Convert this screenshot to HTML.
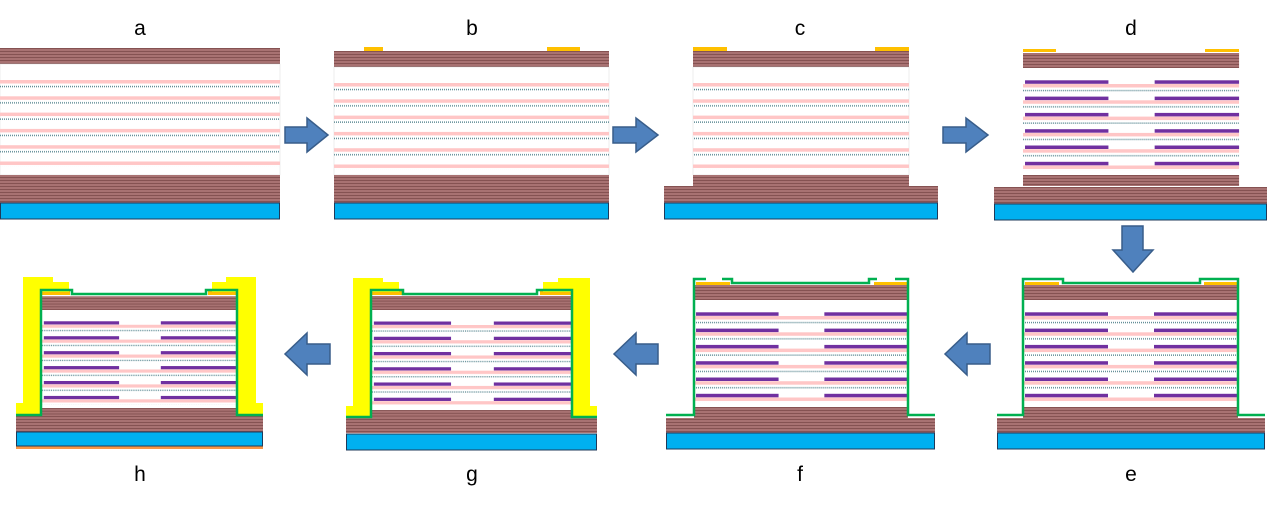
<!DOCTYPE html>
<html><head><meta charset="utf-8"><style>
html,body{margin:0;padding:0;background:#fff;}
svg{display:block;}
text{font-family:"Liberation Sans",sans-serif;font-size:21px;fill:#000;}
</style></head><body>
<svg width="1268" height="505" viewBox="0 0 1268 505" xmlns="http://www.w3.org/2000/svg">
<defs>
<pattern id="dbr" width="10" height="3" patternUnits="userSpaceOnUse"><rect width="10" height="3" fill="#a87272"/><rect y="2" width="10" height="1" fill="#855252"/></pattern>
<pattern id="act" x="0" y="16" width="10" height="16.3" patternUnits="userSpaceOnUse"><rect width="10" height="3.5" fill="#ffc6c6"/><line x1="0" x2="10" y1="6.5" y2="6.5" stroke="#5f8c95" stroke-width="1.5" stroke-dasharray="1 1"/></pattern>
<g id="core">
<rect x="0" y="-15" width="215" height="15" fill="url(#dbr)"/>
<rect x="0" y="0" width="215" height="107" fill="#fff"/>
<rect x="0" y="16" width="215" height="87" fill="url(#act)"/>
<g fill="#7030a0">
<rect x="2" y="12.3" width="83" height="3.5"/><rect x="131" y="12.3" width="84" height="3.5"/>
<rect x="2" y="28.6" width="83" height="3.5"/><rect x="131" y="28.6" width="84" height="3.5"/>
<rect x="2" y="44.9" width="83" height="3.5"/><rect x="131" y="44.9" width="84" height="3.5"/>
<rect x="2" y="61.2" width="83" height="3.5"/><rect x="131" y="61.2" width="84" height="3.5"/>
<rect x="2" y="77.5" width="83" height="3.5"/><rect x="131" y="77.5" width="84" height="3.5"/>
<rect x="2" y="93.8" width="83" height="3.5"/><rect x="131" y="93.8" width="84" height="3.5"/>
</g>
<rect x="0" y="107" width="215" height="11" fill="url(#dbr)"/>
</g>
</defs>

<text x="140" y="35" text-anchor="middle">a</text>
<text x="472" y="35" text-anchor="middle">b</text>
<text x="800" y="35" text-anchor="middle">c</text>
<text x="1131" y="35" text-anchor="middle">d</text>
<text x="140" y="481" text-anchor="middle">h</text>
<text x="472" y="481" text-anchor="middle">g</text>
<text x="800" y="481" text-anchor="middle">f</text>
<text x="1131" y="481" text-anchor="middle">e</text>

<!-- a -->
<g transform="translate(0,64)">
<rect x="0" y="-16" width="280" height="16" fill="url(#dbr)"/>
<rect x="0" y="0" width="280" height="111" fill="#fff" stroke="#ddd" stroke-width="0.5"/>
<rect x="0" y="16" width="280" height="87" fill="url(#act)"/>
<rect x="0" y="111" width="280" height="28" fill="url(#dbr)"/>
<rect x="0.5" y="139" width="279" height="16" fill="#00b0f0" stroke="#1f3a5a"/>
</g>

<!-- b -->
<g transform="translate(334,67)">
<rect x="30" y="-20" width="19" height="4" fill="#ffc000"/><rect x="213" y="-20" width="33" height="4" fill="#ffc000"/>
<rect x="0" y="-16" width="275" height="16" fill="url(#dbr)"/>
<rect x="0" y="0" width="275" height="108" fill="#fff" stroke="#ddd" stroke-width="0.5"/>
<rect x="0" y="16" width="275" height="87" fill="url(#act)"/>
<rect x="0" y="108" width="275" height="28" fill="url(#dbr)"/>
<rect x="0.5" y="136" width="274" height="16" fill="#00b0f0" stroke="#1f3a5a"/>
</g>

<!-- c -->
<g transform="translate(664,67)">
<rect x="29" y="-20" width="34" height="4" fill="#ffc000"/><rect x="211" y="-20" width="34" height="4" fill="#ffc000"/>
<rect x="29" y="-16" width="216" height="16" fill="url(#dbr)"/>
<rect x="29" y="0" width="216" height="108" fill="#fff" stroke="#ddd" stroke-width="0.5"/>
<rect x="29" y="16" width="216" height="87" fill="url(#act)"/>
<rect x="29" y="108" width="216" height="11" fill="url(#dbr)"/>
<rect x="0" y="119" width="274" height="17" fill="url(#dbr)"/>
<rect x="0.5" y="136" width="273" height="16" fill="#00b0f0" stroke="#1f3a5a"/>
</g>

<!-- d -->
<g transform="translate(994,68)">
<rect x="29" y="-19" width="33" height="3" fill="#ffc000"/><rect x="211" y="-19" width="34" height="3" fill="#ffc000"/>
<use href="#core" transform="translate(29,0) scale(1.005,1)"/>
<rect x="0" y="119" width="273" height="17" fill="url(#dbr)"/>
<rect x="0.5" y="136" width="272" height="16" fill="#00b0f0" stroke="#1f3a5a"/>
</g>

<!-- e -->
<g transform="translate(997,300)">
<use href="#core" transform="translate(26,0)"/>
<rect x="28" y="-18" width="34" height="3" fill="#ffc000"/><rect x="207" y="-18" width="34" height="3" fill="#ffc000"/>
<rect x="0" y="118" width="268" height="15" fill="url(#dbr)"/>
<rect x="0.5" y="133" width="267" height="16" fill="#00b0f0" stroke="#1f3a5a"/>
<path d="M0,115 H26 V-21 H66 V-17 H203 V-21 H241 V115 H268" fill="none" stroke="#00b050" stroke-width="2.5"/>
</g>

<!-- f -->
<g transform="translate(666,300)">
<use href="#core" transform="translate(28,0) scale(0.995,1)"/>
<rect x="30" y="-18" width="34" height="3" fill="#ffc000"/><rect x="208" y="-18" width="34" height="3" fill="#ffc000"/>
<rect x="0" y="118" width="269" height="15" fill="url(#dbr)"/>
<rect x="0.5" y="133" width="268" height="16" fill="#00b0f0" stroke="#1f3a5a"/>
<path d="M0,115 H28 V-21 H40 M56,-21 H66 V-17 H203 V-21 H211 M229,-21 H242 V115 H269" fill="none" stroke="#00b050" stroke-width="2.5"/>
</g>

<!-- g -->
<g>
<use href="#core" transform="translate(372,310) scale(0.93,0.935)"/>
<rect x="372" y="291" width="32" height="4" fill="#ffc000"/><rect x="540" y="291" width="32" height="4" fill="#ffc000"/>
<rect x="346" y="418" width="251" height="15" fill="url(#dbr)"/>
<rect x="346.5" y="434" width="250" height="16" fill="#00b0f0" stroke="#1f3a5a"/>
<path d="M353,278 H383 V282 H399 V292 H372 V417 H346 V406 H353 Z" fill="#ffff00"/>
<path d="M590,278 H558 V282 H543 V292 H572 V417 H597 V406 H590 Z" fill="#ffff00"/>
<path d="M346,417 H371 V290 H403 V294 H537 V290 H572 V417 H597" fill="none" stroke="#00b050" stroke-width="2.5"/>
</g>

<!-- h -->
<g>
<use href="#core" transform="translate(42,310) scale(0.907,0.916)"/>
<rect x="42" y="291" width="28" height="4" fill="#ffc000"/><rect x="208" y="291" width="29" height="4" fill="#ffc000"/>
<rect x="16" y="415" width="247" height="17" fill="url(#dbr)"/>
<rect x="16.5" y="432" width="246" height="14" fill="#00b0f0" stroke="#1f3a5a"/>
<rect x="16" y="446.5" width="247" height="2.5" fill="#f79646"/>
<path d="M23,277 H53 V282 H69 V292 H41 V415 H16 V403 H23 Z" fill="#ffff00"/>
<path d="M256,277 H226 V282 H212 V292 H237 V415 H263 V403 H256 Z" fill="#ffff00"/>
<path d="M16,415 H41 V290 H72 V294 H206 V290 H237 V415 H263" fill="none" stroke="#00b050" stroke-width="2.5"/>
</g>

<g fill="#4f81bd" stroke="#385d8a" stroke-width="1.5">
<path d="M285,127 H307 V118 L328,135 L307,152 V143 H285 Z"/>
<path d="M613,127 H636 V118 L658,135 L636,152 V143 H613 Z"/>
<path d="M943,127 H966 V118 L988,135 L966,152 V143 H943 Z"/>
<path d="M1122,226 H1143 V250 H1153 L1133,272 L1113,250 H1122 Z"/>
<path d="M990,344 H967 V333 L945,354 L967,375 V364 H990 Z"/>
<path d="M658,344 H636 V333 L614,354 L636,375 V364 H658 Z"/>
<path d="M330,344 H307 V333 L285,354 L307,375 V364 H330 Z"/>
</g>
</svg>
</body></html>
